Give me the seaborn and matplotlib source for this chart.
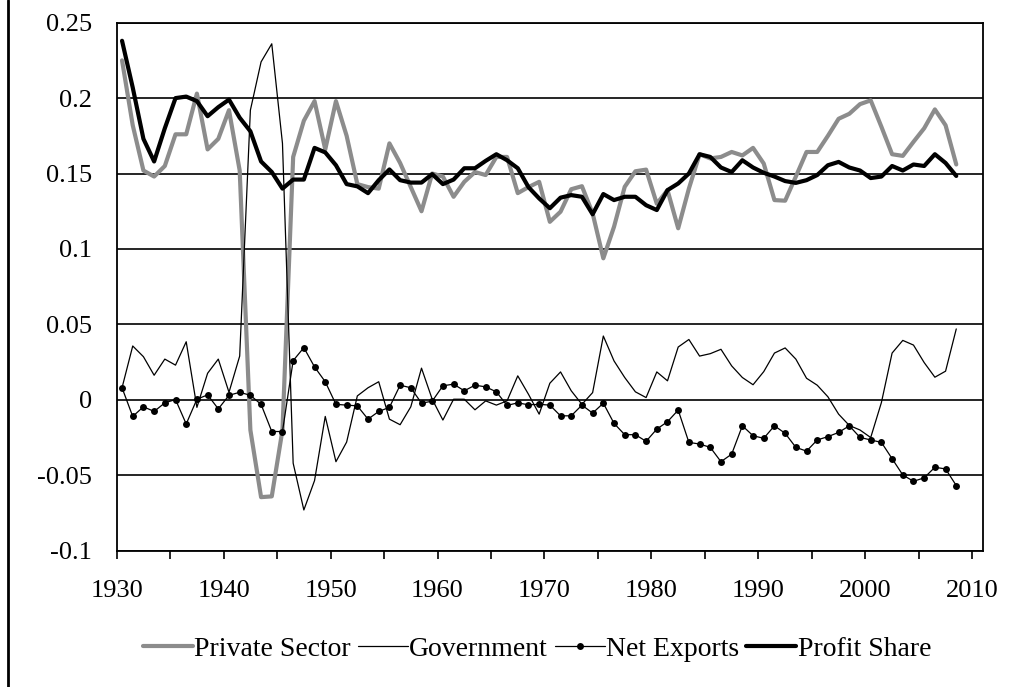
import numpy as np
import pandas as pd
import matplotlib
matplotlib.use("Agg")
import matplotlib.pyplot as plt
import seaborn as sns
from matplotlib.lines import Line2D

# ---------------- data ----------------
years = list(range(1930, 2009))

private_sector = [
    0.225, 0.182, 0.152, 0.148, 0.155, 0.176, 0.176, 0.203, 0.166, 0.173,
    0.192, 0.152, -0.020, -0.0645, -0.064, -0.020, 0.161, 0.185, 0.198, 0.166,
    0.198, 0.175, 0.143, 0.141, 0.140, 0.170, 0.157, 0.141, 0.125, 0.150,
    0.148, 0.1346, 0.1445, 0.151, 0.149, 0.161, 0.161, 0.137, 0.141, 0.1445,
    0.118, 0.1247, 0.1396, 0.1416, 0.1236, 0.0938, 0.1147, 0.1412, 0.1515, 0.1526,
    0.130, 0.139, 0.1137, 0.140, 0.1628, 0.160, 0.161, 0.1643, 0.162, 0.167,
    0.1566, 0.1324, 0.132, 0.148, 0.1643, 0.1643, 0.175, 0.1863, 0.1896, 0.196,
    0.1985, 0.181, 0.1628, 0.1617, 0.171, 0.180, 0.1925, 0.182, 0.156,
]

government = [
    0.008, 0.0357, 0.0286, 0.0163, 0.027, 0.023, 0.0385, -0.005, 0.0176, 0.027,
    0.005, 0.029, 0.192, 0.224, 0.236, 0.170, -0.042, -0.073, -0.0535, -0.011,
    -0.041, -0.028, 0.0026, 0.008, 0.012, -0.0128, -0.0165, -0.0046, 0.021, 0.0004,
    -0.0134, 0.0004, 0.0004, -0.0066, -0.0007, -0.0035, -0.0007, 0.0159, 0.0037, -0.0095,
    0.011, 0.0185, 0.006, -0.003, 0.0048, 0.0423, 0.0258, 0.0148, 0.0053, 0.0015,
    0.0185, 0.0126, 0.035, 0.040, 0.029, 0.0306, 0.0335, 0.0225, 0.0148, 0.010,
    0.0187, 0.031, 0.0344, 0.027, 0.0143, 0.0097, 0.002, -0.0095, -0.017, -0.020,
    -0.025, -0.0018, 0.031, 0.0394, 0.0363, 0.0247, 0.015, 0.019, 0.047,
]

net_exports = [
    0.008, -0.011, -0.0046, -0.0077, -0.002, 0.0002, -0.016, 0.0004, 0.0033, -0.006,
    0.003, 0.005, 0.003, -0.003, -0.021, -0.021, 0.026, 0.0346, 0.0218, 0.012,
    -0.003, -0.0035, -0.004, -0.0128, -0.0077, -0.005, 0.0097, 0.008, -0.0022, -0.0009,
    0.0093, 0.0104, 0.006, 0.0097, 0.0086, 0.0053, -0.0037, -0.002, -0.0033, -0.003,
    -0.0035, -0.0106, -0.0106, -0.0035, -0.0088, -0.0022, -0.0156, -0.0231, -0.0231, -0.0275,
    -0.0194, -0.0145, -0.0068, -0.0282, -0.0293, -0.0315, -0.041, -0.036, -0.0172, -0.0238,
    -0.0255, -0.0172, -0.0222, -0.0315, -0.034, -0.0266, -0.0244, -0.0216, -0.0172, -0.0249,
    -0.0266, -0.0282, -0.039, -0.0498, -0.054, -0.0517, -0.0447, -0.0458, -0.0568,
]

profit_share = [
    0.238, 0.207, 0.173, 0.158, 0.180, 0.200, 0.201, 0.198, 0.188, 0.194,
    0.199, 0.187, 0.178, 0.158, 0.151, 0.140, 0.146, 0.146, 0.167, 0.164,
    0.1555, 0.143, 0.1415, 0.137, 0.1456, 0.1527, 0.1456, 0.144, 0.144, 0.1496,
    0.143, 0.146, 0.1535, 0.1535, 0.1584, 0.1628, 0.1588, 0.1535, 0.141, 0.1335,
    0.127, 0.134, 0.1357, 0.1346, 0.123, 0.1364, 0.1324, 0.1346, 0.1346, 0.129,
    0.1258, 0.139, 0.1434, 0.150, 0.1628, 0.161, 0.154, 0.151, 0.1588, 0.154,
    0.1505, 0.148, 0.145, 0.1438, 0.1456, 0.149, 0.1555, 0.1577, 0.154, 0.152,
    0.147, 0.148, 0.155, 0.152, 0.156, 0.155, 0.1628, 0.157, 0.1484,
]

x_ticks = list(range(1930, 2011, 5))
x_labels = [str(y) if y % 10 == 0 else "" for y in x_ticks]
y_ticks = [-0.1, -0.05, 0.0, 0.05, 0.1, 0.15, 0.2, 0.25]
y_labels = ["-0.1", "-0.05", "0", "0.05", "0.1", "0.15", "0.2", "0.25"]

# ---------------- style ----------------
sns.set_theme(style="white")
plt.rcParams['font.family'] = ['Liberation Serif', 'DejaVu Serif']

df = pd.DataFrame({
    "Year": years,
    "Private Sector": private_sector,
    "Government": government,
    "Net Exports": net_exports,
    "Profit Share": profit_share,
})
# annual values are plotted at mid-year
df["pos"] = df["Year"] + 0.5

fig = plt.figure(figsize=(10.29, 6.87), dpi=100)
ax = fig.add_axes([0.1134, 0.1984, 0.8419, 0.7686])

sns.lineplot(data=df, x="pos", y="Private Sector", ax=ax, color="#8c8c8c",
             lw=3.0, label="Private Sector")
sns.lineplot(data=df, x="pos", y="Government", ax=ax, color="black",
             lw=0.9, label="Government")
sns.lineplot(data=df, x="pos", y="Net Exports", ax=ax, color="black",
             lw=0.9, marker="o", markersize=5, markeredgewidth=0,
             label="Net Exports")
sns.lineplot(data=df, x="pos", y="Profit Share", ax=ax, color="black",
             lw=3.0, label="Profit Share")

ax.set_xlim(1930, 2011)
ax.set_ylim(-0.1, 0.25)
ax.set_xticks(x_ticks)
ax.set_xticklabels(x_labels)
ax.set_yticks(y_ticks)
ax.set_yticklabels(y_labels)
ax.set_xlabel("")
ax.set_ylabel("")

ax.yaxis.grid(True, color="black", lw=1.2)
ax.xaxis.grid(False)
ax.set_axisbelow(True)
for s in ax.spines.values():
    s.set_visible(True)
    s.set_color("black")
    s.set_linewidth(1.3)

ax.tick_params(axis="x", direction="out", length=6, width=1.2, color="black",
               labelsize=19, pad=15, labelcolor="black", bottom=True)
ax.tick_params(axis="y", length=0, labelsize=19, pad=18, labelcolor="black")

leg = ax.legend(loc="center", bbox_to_anchor=(0.522, 0.0553),
                bbox_transform=fig.transFigure, ncol=4, frameon=False,
                fontsize=20, handlelength=1.8, handletextpad=0.05,
                columnspacing=0.25)
for t in leg.get_texts():
    t.set_color("black")

# left border of the chart area
fig.add_artist(Line2D([0.0073, 0.0073], [0.0, 1.0], transform=fig.transFigure,
                      color="black", lw=2))

fig.savefig("out.png", dpi=100)
